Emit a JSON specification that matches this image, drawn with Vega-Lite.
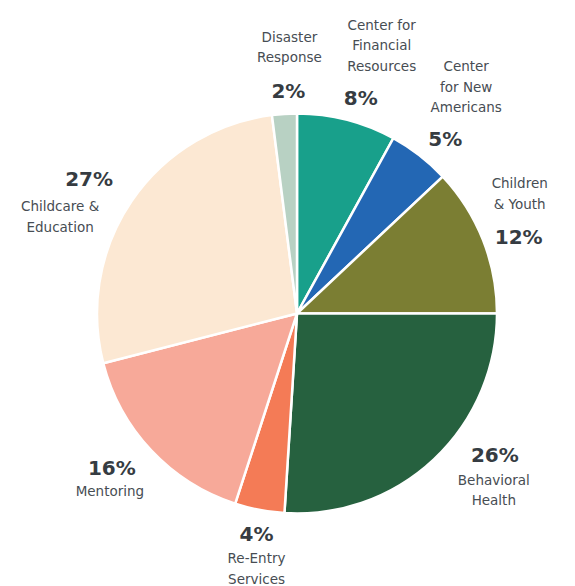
{
  "$schema": "https://vega.github.io/schema/vega-lite/v6.json",
  "autosize": {"type": "fit", "contains": "padding"},
  "width": 575,
  "height": 586,
  "padding": {"left": 19, "top": 32, "right": 0, "bottom": 0},
  "background": "white",
  "view": {"stroke": null},
  "config": {
    "text": {"font": "DejaVu Sans", "baseline": "middle", "align": "center", "lineBreak": "\n", "lineHeight": 20.5}
  },
  "data": {
    "values": [
      {"rank": 1, "program": "Center for\nFinancial\nResources", "share": 8, "pct": "8%"},
      {"rank": 2, "program": "Center\nfor New\nAmericans", "share": 5, "pct": "5%"},
      {"rank": 3, "program": "Children\n& Youth", "share": 12, "pct": "12%"},
      {"rank": 4, "program": "Behavioral\nHealth", "share": 26, "pct": "26%"},
      {"rank": 5, "program": "Re-Entry\nServices", "share": 4, "pct": "4%"},
      {"rank": 6, "program": "Mentoring", "share": 16, "pct": "16%"},
      {"rank": 7, "program": "Childcare &\nEducation", "share": 27, "pct": "27%"},
      {"rank": 8, "program": "Disaster\nResponse", "share": 2, "pct": "2%"}
    ]
  },
  "encoding": {
    "theta": {"field": "share", "type": "quantitative", "stack": true},
    "order": {"field": "rank", "type": "quantitative"}
  },
  "layer": [
    {
      "mark": {"type": "arc", "outerRadius": 200, "stroke": "white", "strokeWidth": 2.5},
      "encoding": {
        "color": {
          "field": "rank",
          "type": "nominal",
          "legend": null,
          "scale": {
            "domain": [1, 2, 3, 4, 5, 6, 7, 8],
            "range": ["#18a08b", "#2367b4", "#7b7e33", "#26613f", "#f47b56", "#f7a999", "#fce8d3", "#b8d1c3"]
          }
        }
      }
    },
    {
      "mark": {"type": "text", "radius": 232, "dx": 6, "dy": 10, "fontSize": 20, "fontWeight": "bold", "fill": "#363c42"},
      "encoding": {"text": {"condition": {"test": "indexof([1,2,3,8], datum.rank) >= 0", "field": "pct", "type": "nominal"}, "value": ""}}
    },
    {
      "mark": {"type": "text", "radius": 232, "dx": 39, "dy": -27, "fontSize": 20, "fontWeight": "bold", "fill": "#363c42"},
      "encoding": {"text": {"condition": {"test": "datum.rank == 4", "field": "pct", "type": "nominal"}, "value": ""}}
    },
    {
      "mark": {"type": "text", "radius": 232, "dx": 3, "dy": -6, "fontSize": 20, "fontWeight": "bold", "fill": "#363c42"},
      "encoding": {"text": {"condition": {"test": "datum.rank == 5", "field": "pct", "type": "nominal"}, "value": ""}}
    },
    {
      "mark": {"type": "text", "radius": 232, "dx": -16, "dy": -3, "fontSize": 20, "fontWeight": "bold", "fill": "#363c42"},
      "encoding": {"text": {"condition": {"test": "datum.rank == 6 || datum.rank == 7", "field": "pct", "type": "nominal"}, "value": ""}}
    },
    {
      "mark": {"type": "text", "radius": 232, "dx": 7, "dy": -44, "fontSize": 13.5, "fill": "#474d53"},
      "encoding": {"text": {"condition": {"test": "datum.rank == 3 || datum.rank == 8", "field": "program", "type": "nominal"}, "value": ""}}
    },
    {
      "mark": {"type": "text", "radius": 232, "dx": 27, "dy": -63, "fontSize": 13.5, "fill": "#474d53"},
      "encoding": {"text": {"condition": {"test": "datum.rank == 1 || datum.rank == 2", "field": "program", "type": "nominal"}, "value": ""}}
    },
    {
      "mark": {"type": "text", "radius": 232, "dx": 38, "dy": -2, "fontSize": 13.5, "fill": "#474d53"},
      "encoding": {"text": {"condition": {"test": "datum.rank == 4", "field": "program", "type": "nominal"}, "value": ""}}
    },
    {
      "mark": {"type": "text", "radius": 232, "dx": 3, "dy": 18, "fontSize": 13.5, "fill": "#474d53"},
      "encoding": {"text": {"condition": {"test": "datum.rank == 5", "field": "program", "type": "nominal"}, "value": ""}}
    },
    {
      "mark": {"type": "text", "radius": 232, "dx": -18, "dy": 20, "fontSize": 13.5, "fill": "#474d53"},
      "encoding": {"text": {"condition": {"test": "datum.rank == 6", "field": "program", "type": "nominal"}, "value": ""}}
    },
    {
      "mark": {"type": "text", "radius": 232, "dx": -45, "dy": 24, "fontSize": 13.5, "fill": "#474d53"},
      "encoding": {"text": {"condition": {"test": "datum.rank == 7", "field": "program", "type": "nominal"}, "value": ""}}
    }
  ]
}
